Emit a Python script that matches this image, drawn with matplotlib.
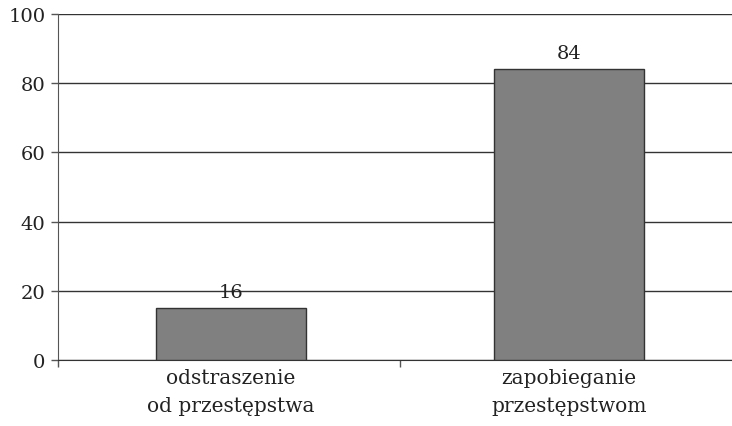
import numpy as np
import matplotlib
matplotlib.use('Agg')
import matplotlib.pyplot as plt
from matplotlib.ticker import FixedLocator

categories = ['odstraszenie\nod przestępstwa', 'zapobieganie\nprzestępstwom']
heights = [15, 84]
value_labels = ['16', '84']
y_ticks = [0, 20, 40, 60, 80, 100]

plt.rcParams['font.family'] = ['DejaVu Serif']

fig = plt.figure(figsize=(7.32, 4.27), dpi=100)
ax = fig.add_axes([58 / 732, 1 - 361 / 427, 1 - 58 / 732, (361 - 15) / 427])

x = np.arange(len(categories))
ax.bar(x, heights, width=0.444, color='#808080', edgecolor='#333333', linewidth=1, zorder=3)

for xi, h, lab in zip(x, heights, value_labels):
    ax.text(xi, h + 2.0, lab, ha='center', va='bottom', fontsize=14, color='#222222', zorder=4)

left = -0.512
ax.set_xlim(left, 1.482)
ax.set_ylim(0, 100)
ax.set_yticks(y_ticks)
ax.yaxis.grid(True, color='#333333', linewidth=1)
ax.set_axisbelow(True)

ax.set_xticks(x)
ax.set_xticklabels(categories, fontsize=14.5, color='#222222', linespacing=1.6)
ax.tick_params(axis='x', length=0, pad=6)
ax.xaxis.set_minor_locator(FixedLocator([left, 0.5]))
ax.tick_params(axis='x', which='minor', length=5, color='#555555', width=1)
ax.tick_params(axis='y', length=5, color='#555555', width=1, labelsize=14, labelcolor='#222222', pad=4)

for s in ['top', 'right']:
    ax.spines[s].set_visible(False)
ax.spines['left'].set_color('#555555')
ax.spines['bottom'].set_color('#333333')

fig.savefig('out.png', dpi=100)
